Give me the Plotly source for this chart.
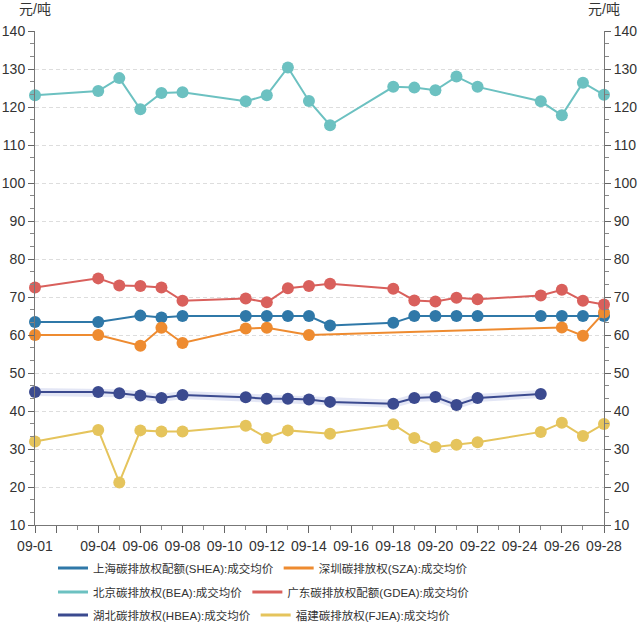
import plotly.graph_objects as go

YEAR = "2023"

shea_dates = ["09-01","09-04","09-06","09-07","09-08","09-11","09-12","09-13","09-14","09-15",
              "09-18","09-19","09-20","09-21","09-22","09-25","09-26","09-27","09-28"]
shea_vals = [63.4,63.4,65.1,64.6,65.0,65.0,65.0,65.0,65.0,62.5,
             63.2,65.0,65.0,65.0,65.0,65.0,65.0,65.0,65.0]

sza_dates = ["09-01","09-04","09-06","09-07","09-08","09-11","09-12","09-14","09-26","09-27","09-28"]
sza_vals = [60.0,60.0,57.2,61.9,57.9,61.7,61.9,60.0,62.0,59.8,65.9]

bea_dates = ["09-01","09-04","09-05","09-06","09-07","09-08","09-11","09-12","09-13","09-14","09-15",
             "09-18","09-19","09-20","09-21","09-22","09-25","09-26","09-27","09-28"]
bea_vals = [123.1,124.2,127.6,119.4,123.7,123.9,121.5,123.1,130.4,121.6,115.2,
            125.3,125.1,124.4,128.0,125.3,121.5,117.8,126.4,123.2]

gdea_dates = bea_dates
gdea_vals = [72.5,74.9,73.0,72.9,72.5,69.0,69.6,68.6,72.3,72.9,73.5,
             72.2,69.1,68.8,69.8,69.4,70.4,71.9,69.0,68.0]

hbea_dates = ["09-01","09-04","09-05","09-06","09-07","09-08","09-11","09-12","09-13","09-14","09-15",
              "09-18","09-19","09-20","09-21","09-22","09-25"]
hbea_vals = [45.0,45.0,44.7,44.1,43.4,44.2,43.6,43.2,43.2,43.0,42.4,
             41.9,43.4,43.7,41.6,43.4,44.5]

fjea_dates = ["09-01","09-04","09-05","09-06","09-07","09-08","09-11","09-12","09-13","09-15",
              "09-18","09-19","09-20","09-21","09-22","09-25","09-26","09-27","09-28"]
fjea_vals = [32.0,35.0,21.2,34.9,34.6,34.6,36.1,32.9,34.9,34.0,
             36.5,32.9,30.5,31.1,31.8,34.5,36.9,33.4,36.6]

series_names = ["上海碳排放权配额(SHEA):成交均价", "深圳碳排放权(SZA):成交均价",
                "北京碳排放权(BEA):成交均价", "广东碳排放权配额(GDEA):成交均价",
                "湖北碳排放权(HBEA):成交均价", "福建碳排放权(FJEA):成交均价"]
colors = ["#2f78a8", "#ee8b30", "#6cc1c1", "#d9605c", "#3b4a8f", "#e5c45c"]

x_tick_labels = ["09-01","09-02","09-04","09-06","09-08","09-10","09-12","09-14","09-16",
                 "09-18","09-20","09-22","09-24","09-26","09-28"]
y_ticks = [10,20,30,40,50,60,70,80,90,100,110,120,130,140]

def d(s):
    return [f"{YEAR}-{v}" for v in s]

FONT = "Liberation Sans, Arial, Noto Sans CJK SC, sans-serif"

fig = go.Figure()

all_series = [(shea_dates, shea_vals), (sza_dates, sza_vals), (bea_dates, bea_vals),
              (gdea_dates, gdea_vals), (hbea_dates, hbea_vals), (fjea_dates, fjea_vals)]

# soft shadow band under HBEA line
fig.add_trace(go.Scatter(x=d(hbea_dates), y=hbea_vals, mode="lines",
                         line=dict(color="rgba(80,100,190,0.16)", width=8),
                         showlegend=False, hoverinfo="skip"))

for (dates, vals), name, col in zip(all_series, series_names, colors):
    fig.add_trace(go.Scatter(x=d(dates), y=vals, mode="lines+markers", name=name,
                             line=dict(color=col, width=2),
                             marker=dict(color=col, size=12),
                             cliponaxis=False, showlegend=False))

legend_ids = ["legend", "legend", "legend2", "legend2", "legend3", "legend3"]
for name, col, lg in zip(series_names, colors, legend_ids):
    fig.add_trace(go.Scatter(x=[None], y=[None], mode="lines", name=name,
                             line=dict(color=col, width=3), legend=lg, showlegend=True))

# invisible trace for right axis
fig.add_trace(go.Scatter(x=[f"{YEAR}-09-01"], y=[10], yaxis="y2", mode="markers",
                         marker=dict(opacity=0), showlegend=False, hoverinfo="skip"))

tickfont = dict(family=FONT, size=14, color="#333333")
legfont = dict(family=FONT, size=11.5, color="#333333")

yaxis_common = dict(range=[10, 140], tickvals=y_ticks, ticks="outside", ticklen=6,
                    tickcolor="#666666", showline=True, linecolor="#777777", linewidth=1,
                    tickfont=tickfont, zeroline=False, automargin=False,
                    minor=dict(dtick=10/3, tick0=10, ticks="outside", ticklen=4,
                               tickcolor="#888888", showgrid=False))

W, H = 640, 625

def leg(y_screen):
    return dict(orientation="h", xref="container", yref="container", x=53 / W, xanchor="left",
                y=1 - y_screen / H, yanchor="middle", font=legfont, itemwidth=30,
                bgcolor="rgba(0,0,0,0)")

fig.update_layout(
    width=W, height=H,
    margin=dict(l=35, r=36, t=31, b=100, autoexpand=False),
    plot_bgcolor="white", paper_bgcolor="white",
    font=dict(family=FONT, color="#333333"),
    xaxis=dict(type="date", range=[f"{YEAR}-09-01", f"{YEAR}-09-28"],
               tickvals=d(x_tick_labels),
               ticktext=[("" if t == "09-02" else t) for t in x_tick_labels],
               ticks="outside", ticklen=7, tickcolor="#666666", ticklabelstandoff=1,
               showline=True, linecolor="#777777", linewidth=1, automargin=False,
               showgrid=False, tickfont=tickfont,
               minor=dict(dtick=86400000, ticks="outside", ticklen=4, tickcolor="#888888",
                          showgrid=False)),
    yaxis=dict(**yaxis_common, side="left", showgrid=True, gridcolor="#dddddd",
               griddash="4px,3px"),
    yaxis2=dict(**yaxis_common, side="right", overlaying="y", showgrid=False),
    legend=leg(568),
    legend2=leg(592),
    legend3=leg(615),
    annotations=[
        dict(text="元/吨", xref="paper", yref="paper", x=0, y=1, xshift=0, yshift=22,
             xanchor="center", yanchor="middle", showarrow=False,
             font=dict(family=FONT, size=14, color="#333333")),
        dict(text="元/吨", xref="paper", yref="paper", x=1, y=1, xshift=0, yshift=22,
             xanchor="center", yanchor="middle", showarrow=False,
             font=dict(family=FONT, size=14, color="#333333")),
    ],
)

fig.write_html("out.html", config={"displayModeBar": False},
               post_script="document.body.style.margin='0';")
